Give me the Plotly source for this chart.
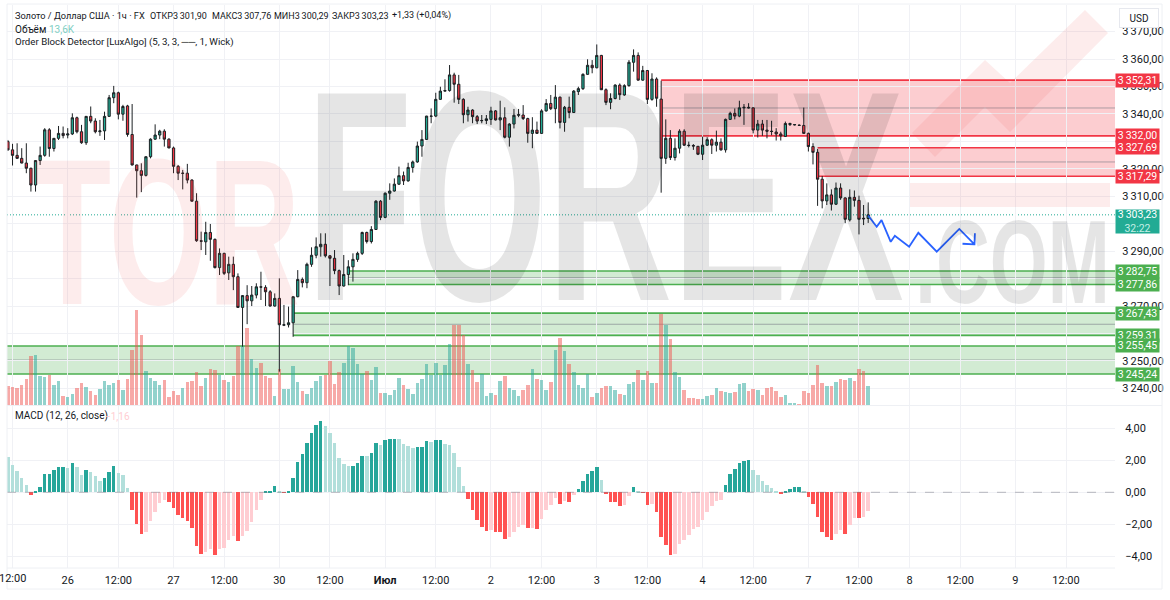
import plotly.graph_objects as go

W, H = 1170, 600

# ---------- data ----------
open_ = [3329.9,3326.9,3324.9,3323.8,3322.1,3320.2,3314.1,3323.0,3324.9,3334.2,
3327.4,3331.1,3332.9,3332.3,3332.7,3338.6,3333.5,3329.5,3339.1,3337.4,
3333.5,3333.8,3339.1,3345.9,3347.7,3339.9,3342.9,3332.5,3321.4,3319.3,
3317.6,3324.4,3330.8,3332.3,3333.7,3330.8,3327.6,3320.9,3318.3,3318.4,
3315.9,3308.2,3293.8,3293.4,3296.8,3294.3,3284.0,3289.2,3282.1,3285.2,
3280.7,3269.5,3273.8,3271.9,3274.0,3277.0,3276.8,3275.2,3270.0,3272.8,
3263.0,3263.2,3263.9,3273.4,3279.7,3278.5,3285.2,3288.5,3291.6,3292.5,
3288.3,3287.4,3282.9,3277.3,3281.5,3284.3,3287.0,3289.2,3296.8,3293.5,
3297.9,3308.2,3302.3,3311.1,3311.9,3314.4,3317.5,3315.6,3320.5,3322.5,
3328.3,3330.7,3339.1,3339.2,3345.3,3348.3,3348.5,3354.2,3350.8,3345.3,
3339.7,3341.4,3339.0,3337.5,3337.6,3338.0,3341.1,3337.8,3338.6,3331.5,
3336.3,3339.5,3339.6,3338.3,3332.9,3334.1,3332.9,3341.1,3343.8,3341.9,
3346.1,3336.9,3342.4,3340.5,3348.1,3349.2,3354.4,3357.7,3356.8,3361.3,
3348.8,3344.2,3345.6,3350.5,3346.9,3350.3,3358.8,3361.3,3352.3,3355.8,
3345.3,3352.7,3345.4,3323.8,3331.1,3324.1,3327.5,3333.7,3328.6,3328.5,
3328.2,3325.3,3328.6,3330.6,3328.6,3329.7,3326.9,3338.0,3340.2,3339.2,
3342.2,3342.4,3342.2,3334.1,3336.3,3334.1,3333.7,3333.4,3332.7,3331.8,
3336.1,3336.0,3335.9,3335.8,3332.9,3328.1,3326.0,3316.2,3308.3,3310.5,
3307.1,3313.0,3309.4,3301.4,3309.6,3308.5,3302.0,3301.90]

high = [3330.5,3329.1,3329.3,3327.5,3329.3,3320.4,3323.2,3328.1,3334.8,3334.8,
3331.2,3335.6,3335.4,3334.8,3340.2,3339.0,3336.0,3339.2,3342.7,3338.4,
3337.8,3340.8,3346.9,3350.2,3348.1,3343.3,3343.3,3343.6,3321.5,3322.0,
3324.5,3331.1,3336.2,3334.2,3334.4,3331.1,3328.1,3321.4,3319.6,3321.8,
3316.2,3311.1,3297.1,3300.7,3299.9,3294.6,3291.0,3289.4,3288.0,3288.0,
3281.9,3274.0,3277.6,3277.3,3278.3,3282.5,3277.6,3275.8,3274.6,3280.1,
3270.4,3269.8,3273.5,3283.1,3280.4,3285.8,3291.4,3295.0,3296.5,3296.5,
3288.6,3290.4,3283.3,3288.6,3286.7,3289.2,3289.8,3297.1,3297.1,3299.1,
3308.6,3308.6,3311.4,3314.7,3316.5,3320.8,3319.0,3322.2,3323.0,3329.9,
3334.1,3339.3,3342.0,3347.7,3349.9,3352.6,3357.8,3355.0,3354.2,3345.7,
3342.6,3341.7,3339.6,3339.6,3339.6,3342.6,3341.4,3344.8,3342.4,3336.6,
3341.8,3341.8,3343.2,3338.6,3338.8,3337.2,3341.7,3345.4,3346.9,3350.5,
3346.3,3342.9,3346.3,3348.7,3349.9,3354.8,3359.9,3359.6,3365.3,3361.5,
3349.3,3347.5,3350.8,3351.1,3350.8,3359.6,3363.5,3362.4,3357.5,3356.0,
3354.8,3353.3,3352.1,3338.0,3334.1,3331.1,3334.4,3334.4,3329.9,3329.0,
3328.3,3331.7,3331.5,3331.1,3333.9,3331.1,3338.3,3340.8,3342.0,3344.8,
3343.6,3343.9,3342.4,3337.8,3337.8,3337.8,3337.5,3334.8,3333.5,3337.2,
3336.8,3336.3,3336.2,3342.3,3333.2,3329.3,3327.2,3317.4,3314.7,3312.5,
3315.0,3314.7,3309.6,3312.5,3312.1,3310.2,3306.8,3307.76]

low = [3326.6,3321.2,3323.6,3322.0,3318.4,3311.7,3311.7,3321.4,3324.4,3324.4,
3326.3,3330.5,3331.1,3331.1,3332.3,3332.9,3329.1,3328.7,3336.6,3332.9,
3332.0,3330.5,3339.0,3343.9,3338.0,3337.5,3331.7,3321.2,3309.5,3311.5,
3317.2,3323.8,3330.5,3330.8,3328.1,3327.5,3318.4,3315.9,3312.5,3314.7,
3308.1,3293.4,3290.4,3288.6,3286.5,3283.7,3281.3,3281.3,3279.5,3275.8,
3269.3,3255.2,3263.4,3270.0,3272.8,3272.2,3270.0,3269.8,3269.8,3246.1,
3262.7,3262.2,3258.8,3273.2,3276.8,3276.5,3284.3,3287.4,3288.0,3287.7,
3277.3,3281.6,3274.0,3277.1,3277.6,3278.9,3286.1,3288.6,3292.8,3292.8,
3297.7,3301.3,3302.0,3308.7,3311.7,3314.1,3314.1,3315.3,3318.6,3322.2,
3324.4,3330.5,3336.6,3338.8,3345.1,3348.1,3348.1,3344.1,3343.6,3336.6,
3337.2,3336.6,3336.3,3336.6,3336.3,3336.0,3337.6,3334.1,3331.1,3328.1,
3334.7,3338.8,3337.8,3329.5,3327.5,3332.7,3332.7,3340.8,3341.4,3336.6,
3334.7,3333.5,3338.4,3340.4,3346.9,3348.7,3354.2,3354.8,3356.6,3348.7,
3343.2,3341.7,3345.3,3345.1,3346.6,3349.9,3355.4,3352.1,3352.1,3343.6,
3344.8,3342.6,3311.3,3321.8,3323.2,3323.0,3325.6,3328.3,3327.8,3326.9,
3325.0,3323.2,3328.3,3325.4,3326.3,3326.6,3325.9,3337.8,3338.0,3338.8,
3336.0,3342.0,3332.9,3331.4,3332.0,3331.1,3332.2,3330.3,3330.3,3331.7,
3335.6,3335.8,3335.7,3332.7,3326.3,3321.6,3306.5,3305.6,3306.8,3304.8,
3306.8,3308.7,3300.2,3300.8,3306.2,3296.1,3299.5,3300.29]

close = [3326.9,3324.9,3323.8,3322.1,3320.2,3314.1,3323.0,3324.9,3334.2,3327.4,
3331.1,3332.9,3332.1,3332.7,3338.6,3333.5,3329.5,3339.1,3337.4,3333.5,
3333.8,3339.1,3345.9,3347.7,3339.9,3342.7,3332.5,3321.4,3319.3,3317.6,
3324.4,3330.8,3332.3,3333.7,3330.8,3327.6,3320.9,3318.4,3318.4,3315.9,
3308.2,3293.8,3293.6,3296.8,3294.3,3284.0,3289.2,3281.9,3285.2,3280.7,
3269.5,3273.8,3271.9,3274.0,3277.0,3276.9,3275.2,3270.0,3272.8,3263.2,
3263.2,3263.9,3273.4,3279.7,3278.5,3285.2,3288.5,3291.6,3292.5,3288.3,
3287.4,3282.9,3277.3,3281.5,3284.3,3287.0,3289.2,3296.8,3293.5,3297.9,
3308.2,3302.3,3311.1,3311.9,3314.4,3317.5,3315.6,3320.5,3322.5,3328.3,
3330.7,3339.2,3339.2,3345.3,3348.3,3348.5,3354.2,3350.8,3345.3,3339.7,
3341.4,3339.0,3337.4,3337.6,3338.2,3341.1,3337.8,3338.6,3331.5,3336.3,
3339.5,3339.7,3338.3,3332.9,3334.1,3332.9,3341.1,3343.8,3341.9,3346.1,
3336.9,3342.4,3340.5,3348.3,3349.2,3354.4,3357.7,3356.8,3361.3,3348.8,
3344.2,3345.6,3350.5,3347.0,3350.3,3358.8,3361.3,3352.3,3355.8,3345.3,
3352.7,3345.7,3323.8,3331.1,3324.1,3327.5,3333.7,3328.6,3328.5,3328.3,
3325.3,3328.6,3330.6,3328.6,3329.7,3326.9,3338.0,3340.2,3339.2,3342.2,
3342.4,3342.2,3334.1,3336.3,3334.1,3333.7,3333.6,3332.7,3332.0,3336.5,
3336.5,3336.1,3335.8,3332.9,3328.1,3326.0,3316.2,3308.3,3310.5,3307.1,
3313.0,3309.4,3301.6,3309.6,3308.5,3301.6,3301.8,3303.23]

volume_k = [13.0,12.5,11.8,14.4,18.7,34.8,35.3,20.6,19.9,21.4,13.9,16.6,6.2,5.5,7.7,11.8,15.6,12.7,9.8,6.7,
11.0,16.6,13.9,15.6,17.5,10.6,18.2,39.4,67.7,50.2,24.0,19.0,16.6,13.9,17.8,5.5,9.6,6.7,12.0,16.1,17.0,23.3,13.2,19.4,25.4,25.0,21.4,
17.8,16.1,20.4,41.8,41.8,55.0,32.6,26.4,30.2,20.4,19.0,6.2,25.7,11.3,11.3,27.6,16.1,9.6,7.7,11.8,16.8,20.4,21.6,31.2,14.6,23.3,30.2,42.2,40.8,29.3,21.8,23.8,17.8,26.9,8.4,8.4,6.7,10.6,19.2,
13.7,11.3,7.4,15.6,18.5,29.5,21.4,30.0,21.4,28.3,
43.9,57.6,56.9,50.4,29.5,25.2,16.3,22.3,6.0,8.2,
7.0,16.8,20.2,12.2,10.8,6.0,10.3,13.7,25.7,18.5,
18.0,10.3,16.3,39.4,48.2,38.4,29.0,23.3,13.7,12.2,
21.8,5.3,8.2,12.0,13.0,13.0,10.3,7.4,6.5,14.6,
16.3,24.7,18.0,24.0,15.4,15.8,65.0,56.9,47.0,23.3,
19.7,10.3,4.8,4.8,3.8,3.8,6.0,7.0,11.8,9.4,
9.1,8.2,8.9,14.6,15.8,9.4,11.5,10.3,7.0,11.8,
12.5,9.6,5.3,6.5,1.0,1.0,0.5,9.6,8.6,14.2,
28.1,15.8,13.2,13.2,16.3,18.5,18.0,19.0,16.8,25.7,24.0,13.6]

macd_hist = [2.23,1.71,1.31,0.92,0.46,-0.17,0.08,0.35,1.15,1.16,
1.40,1.58,1.59,1.52,1.81,1.58,1.08,1.40,1.29,1.02,
0.71,0.87,1.29,1.65,1.23,1.08,0.25,-1.10,-2.00,-2.58,
-2.46,-1.77,-1.21,-0.65,-0.48,-0.58,-1.00,-1.44,-1.58,-1.77,
-2.25,-3.33,-3.85,-3.71,-3.56,-3.92,-3.52,-3.48,-3.00,-2.73,
-3.06,-2.71,-2.42,-1.85,-1.10,-0.48,0.02,0.06,0.40,0.04,
-0.04,0.08,0.87,1.88,2.40,3.10,3.73,4.19,4.46,4.15,
3.73,3.06,2.15,1.79,1.63,1.67,1.81,2.29,2.28,2.44,
3.10,2.96,3.27,3.33,3.34,3.33,3.02,2.92,2.77,2.85,
2.86,3.21,3.15,3.25,3.27,3.02,2.96,2.46,1.56,0.42,
-0.40,-1.13,-1.75,-2.19,-2.42,-2.33,-2.46,-2.47,-2.90,-2.79,
-2.46,-2.17,-2.02,-2.23,-2.21,-2.27,-1.65,-1.08,-0.81,-0.35,
-0.73,-0.56,-0.58,-0.15,0.23,0.73,1.17,1.31,1.60,0.79,
-0.10,-0.58,-0.63,-0.88,-0.77,-0.21,0.35,0.02,-0.02,-0.79,
-0.75,-1.21,-2.81,-3.31,-3.90,-3.83,-3.21,-2.96,-2.65,-2.31,
-2.17,-1.75,-1.21,-0.88,-0.56,-0.46,0.46,1.13,1.48,1.83,
1.98,2.04,1.42,1.10,0.73,0.46,0.27,0.06,-0.10,0.10,
0.23,0.31,0.32,0.10,-0.31,-0.71,-1.56,-2.46,-2.77,-3.00,
-2.58,-2.35,-2.60,-2.02,-1.60,-1.61,-1.52,-1.16]

bars = list(range(len(close)))

time_ticks = [1,13,24,36,47,59,70,82,93,105,116,128,139,151,162,174,185,196,207,219,230]
time_labels = ["","26","12:00","27","12:00","30","12:00","<b>Июл</b>","12:00","2","12:00","3",
               "12:00","4","12:00","7","12:00","8","12:00","9","12:00"]
first_time_label = "12:00"
price_ticks = [3240,3250,3260,3270,3280,3290,3300,3310,3320,3330,3340,3350,3360,3370]
price_labels = ["3\u2009240,00","3\u2009250,00","","3\u2009270,00","","3\u2009290,00",
                "","3\u2009310,00","3\u2009320,00","","3\u2009340,00","3\u2009350,00",
                "3\u2009360,00","3\u2009370,00"]
macd_ticks = [4,2,0,-2,-4]
macd_labels = ["4,00","2,00","0,00","\u22122,00","\u22124,00"]

red_top = [3352.31,3327.69]
red_bottom = [3332.00,3317.29]
red_start = [142,176]
green_top = [3282.75,3267.43,3255.45]
green_bottom = [3277.86,3259.31,3245.24]
green_start = [74,62,-0.2]
last_price = 3303.23

path_x = [187,188.85,189.9,191.9,192.8,195.9,197.9,201.9,206.8,210.1,207.5,210.1,210.2]
path_y = [3303,3298.9,3301.3,3293.4,3295.6,3291.6,3296.7,3289.8,3298.1,3292.5,3292.7,3292.5,3296.5]

# ---------- geometry helpers ----------
px = lambda v: v / W
py = lambda v: 1 - v / H
X_RANGE = [-0.2, 240.65]
GRID = "#f0f1f5"
TXT = "#131722"
FONT = "Roboto"
GREEN, RED = "#22ab94", "#f23645"

fig = go.Figure()

# volume on the base axis so candles draw above it
fig.add_trace(go.Bar(
    x=bars, y=volume_k, xaxis="x", yaxis="y", width=0.76,
    marker=dict(color=["rgba(38,166,154,0.5)" if c >= o else "rgba(239,83,80,0.5)" for o, c in zip(open_, close)],
                line_width=0),
    hoverinfo="skip", showlegend=False))

fig.add_trace(go.Candlestick(
    x=bars, open=open_, high=high, low=low, close=close, xaxis="x", yaxis="y3",
    increasing=dict(line=dict(color="#1c2023", width=1), fillcolor=GREEN),
    decreasing=dict(line=dict(color="#1c2023", width=1), fillcolor=RED),
    whiskerwidth=0, showlegend=False))

fig.add_trace(go.Scatter(
    x=path_x, y=path_y, mode="lines", xaxis="x", yaxis="y3",
    line=dict(color="#2962ff", width=1.8), hoverinfo="skip", showlegend=False))

macd_colors = []
for i, v in enumerate(macd_hist):
    prev = macd_hist[i - 1] if i else None
    if v >= 0:
        macd_colors.append("#26a69a" if prev is not None and v > prev else "#b2dfdb")
    else:
        macd_colors.append("#ff5252" if prev is not None and v < prev else "#ffcdd2")
fig.add_trace(go.Bar(
    x=bars, y=macd_hist, xaxis="x2", yaxis="y2", width=0.76,
    marker=dict(color=macd_colors, line_width=0), hoverinfo="skip", showlegend=False))

# ---------- zones ----------
shapes = []
def zone(top, bot, start, fill, edge):
    shapes.append(dict(type="rect", xref="x", yref="y3", x0=start, x1=X_RANGE[1], y0=bot, y1=top,
                       fillcolor=fill, line_width=0, layer="below"))
    for v in (top, bot):
        shapes.append(dict(type="line", xref="x", yref="y3", x0=start, x1=X_RANGE[1], y0=v, y1=v,
                           line=dict(color=edge, width=1.6), layer="below"))
    m = (top + bot) / 2
    shapes.append(dict(type="line", xref="x", yref="y3", x0=start, x1=X_RANGE[1], y0=m, y1=m,
                       line=dict(color="rgba(120,123,134,0.6)", width=1), layer="below"))

for t, b, s in zip(red_top, red_bottom, red_start):
    zone(t, b, s, "rgba(242,54,69,0.25)", "#f23645")
for t, b, s in zip(green_top, green_bottom, green_start):
    zone(t, b, s, "rgba(76,175,80,0.25)", "#4caf50")

shapes.append(dict(type="line", xref="x", yref="y3", x0=X_RANGE[0], x1=X_RANGE[1], y0=last_price, y1=last_price,
                   line=dict(color=GREEN, width=1, dash="1px,2px"), layer="below"))
shapes.append(dict(type="line", xref="x2", yref="y2", x0=X_RANGE[0], x1=X_RANGE[1], y0=0, y1=0,
                   line=dict(color="rgba(120,123,134,0.5)", width=1, dash="dash"), layer="above"))

# pane frame
BORDER = "#eef0f4"
for x0, y0, x1, y1 in [(7,4,1162,4),(7,4,7,589),(1162,4,1162,589),(7,589,1162,589),(7,405.5,1162,405.5),(7,568,1115,568)]:
    shapes.append(dict(type="line", xref="paper", yref="paper", x0=px(x0), x1=px(x1), y0=py(y0), y1=py(y1),
                       line=dict(color=BORDER, width=1), layer="above"))

# watermark logo marks
WM_PINK = "rgba(240,70,70,0.10)"
tick_pts = [(935,157),(912,133),(985,60),(1010,83),(1085,10),(1108,33),(1010,132),(985,107)]
shapes.append(dict(type="path", xref="paper", yref="paper", layer="above", fillcolor=WM_PINK, line_width=0,
                   path="M " + " L ".join(f"{px(a):.5f},{py(b):.5f}" for a, b in tick_pts) + " Z"))
shapes.append(dict(type="rect", xref="paper", yref="paper", layer="above", fillcolor=WM_PINK, line_width=0,
                   x0=px(910), x1=px(1110), y0=py(207), y1=py(183)))

# ---------- text ----------
ann = []
WM_FONT = "Liberation Sans"
def wm(text, size, mid, color):
    ann.append(dict(text=f"<b>{text}</b>", xref="paper", yref="paper", x=px(0), y=py(mid), xanchor="left", yanchor="middle",
                    showarrow=False, font=dict(family=WM_FONT, size=size, color=color), borderpad=0))
wm("TOR", 208, 232, "rgba(240,70,70,0.10)")
wm("FOREX", 300, 196, "rgba(0,0,0,0.10)")
wm(".COM", 118, 262, "rgba(0,0,0,0.10)")

def head(text, x, y, size=10, color=TXT):
    ann.append(dict(text=text, xref="paper", yref="paper", x=px(x), y=py(y), xanchor="left", yanchor="middle",
                    showarrow=False, font=dict(family=FONT, size=size, color=color), borderpad=0))
head("Золото / Доллар США · 1ч · FX", 14, 16, size=9.2)
head("ОТКР3\u2009301,90", 149, 16, size=9)
head("МАКС3\u2009307,76", 211, 16, size=9)
head("МИН3\u2009300,29", 273, 16, size=9)
head("ЗАКР3\u2009303,23", 331, 16, size=9)
head("+1,33 (+0,04%)", 391, 16, size=9)
head("Объём", 14, 29)
head("13,6K", 48, 29, color="#7fcfc3")
head("Order Block Detector [LuxAlgo] (5, 3, 3, ──, 1, Wick)", 14, 42, size=9.7)
head("MACD (12, 26, close)", 14, 416)
head("\u22121,16", 104, 416, color="#ffcdd2")
ann.append(dict(text=first_time_label, xref="paper", yref="paper", x=px(12), y=py(578), xanchor="center", yanchor="middle",
                showarrow=False, font=dict(family=FONT, size=11, color=TXT), borderpad=0))

def tag(text, value, color, h=13):
    ann.append(dict(text=text, xref="paper", yref="y3", x=px(1137.5), y=value, xanchor="center", yanchor="middle",
                    showarrow=False, width=43, height=h, bgcolor=color, borderpad=0, align="center",
                    font=dict(family=FONT, size=10.5, color="#ffffff")))
for v, t in [(3352.31,"3\u2009352,31"),(3332.00,"3\u2009332,00"),(3327.69,"3\u2009327,69"),(3317.29,"3\u2009317,29")]:
    tag(t, v, RED)
for v, t in [(3282.75,"3\u2009282,75"),(3277.86,"3\u2009277,86"),(3267.43,"3\u2009267,43"),(3259.31,"3\u2009259,31"),
             (3255.45,"3\u2009255,45"),(3245.24,"3\u2009245,24")]:
    tag(t, v, "#4caf50")
ann.append(dict(text="3\u2009303,23<br><span style='color:#c5efe6'>32:22</span>", xref="paper", yref="paper",
                x=px(1137.5), y=py(221.5), xanchor="center", yanchor="middle", showarrow=False, width=43, height=23,
                bgcolor=GREEN, borderpad=0, align="center", font=dict(family=FONT, size=10.5, color="#ffffff")))
ann.append(dict(text="USD", xref="paper", yref="paper", x=px(1139), y=py(17.5), xanchor="center", yanchor="middle",
                showarrow=False, width=38, height=18, bgcolor="#ffffff", bordercolor="#e6e8ee", borderwidth=1, borderpad=0,
                font=dict(family=FONT, size=10, color=TXT)))

# ---------- layout ----------
P_TOP, P_BOT, M_BOT = 5, 406, 568
SLOPE = 10 / 27.45          # price per pixel
price_range = [3360 - (P_BOT - 59) * SLOPE, 3360 + (59 - P_TOP) * SLOPE]
vol_range = [-(P_BOT - 404.5) * 0.72, (404.5 - P_TOP) * 0.72]
macd_range = [-(M_BOT - 492.3) / 16, (492.3 - P_BOT) / 16]

common_x = dict(range=X_RANGE, tickmode="array", tickvals=time_ticks, showgrid=True, gridcolor=GRID, gridwidth=1,
                zeroline=False, showline=False, ticks="", domain=[px(7), px(1115)])

fig.update_layout(
    width=W, height=H, margin=dict(l=0, r=0, t=0, b=0), autosize=False,
    paper_bgcolor="#ffffff", plot_bgcolor="#ffffff", showlegend=False, bargap=0, barmode="overlay",
    font=dict(family=FONT, size=11, color=TXT),
    xaxis=dict(common_x, anchor="y", showticklabels=False, rangeslider=dict(visible=False)),
    xaxis2=dict(common_x, anchor="y2", matches="x", ticktext=time_labels, showticklabels=True,
                tickfont=dict(family=FONT, size=11, color=TXT), ticklen=2, tickcolor="rgba(0,0,0,0)", ticks="outside"),
    yaxis=dict(domain=[py(P_BOT), py(P_TOP)], range=vol_range, visible=False, showgrid=False, fixedrange=True),
    yaxis3=dict(domain=[py(P_BOT), py(P_TOP)], overlaying="y", side="right", anchor="x", range=price_range,
                tickmode="array", tickvals=price_ticks, ticktext=price_labels, showgrid=True, gridcolor=GRID, zeroline=False,
                ticks="outside", ticklen=4, tickcolor="rgba(0,0,0,0)", tickfont=dict(family=FONT, size=11, color=TXT)),
    yaxis2=dict(domain=[py(M_BOT), py(P_BOT)], side="right", anchor="x2", range=macd_range, tickmode="array",
                tickvals=macd_ticks, ticktext=macd_labels, showgrid=True, gridcolor=GRID, zeroline=False,
                ticks="outside", ticklen=7, tickcolor="rgba(0,0,0,0)", tickfont=dict(family=FONT, size=11, color=TXT)),
    shapes=shapes, annotations=ann)

post = """
document.body.style.margin='0';
var gd=document.getElementById('{plot_id}');
var spans={'TOR':[33,300],'FOREX':[306,905],'.COM':[915,1110]};
gd.querySelectorAll('g.annotation').forEach(function(g){
  var s=spans[g.textContent]; if(!s) return;
  var b=g.getBBox(); var k=(s[1]-s[0])/b.width;
  g.setAttribute('transform','translate('+s[0]+' 0) scale('+k+' 1) translate('+(-b.x)+' 0)');
});
"""
fig.write_html("out.html", post_script=post, config={"displayModeBar": False})
